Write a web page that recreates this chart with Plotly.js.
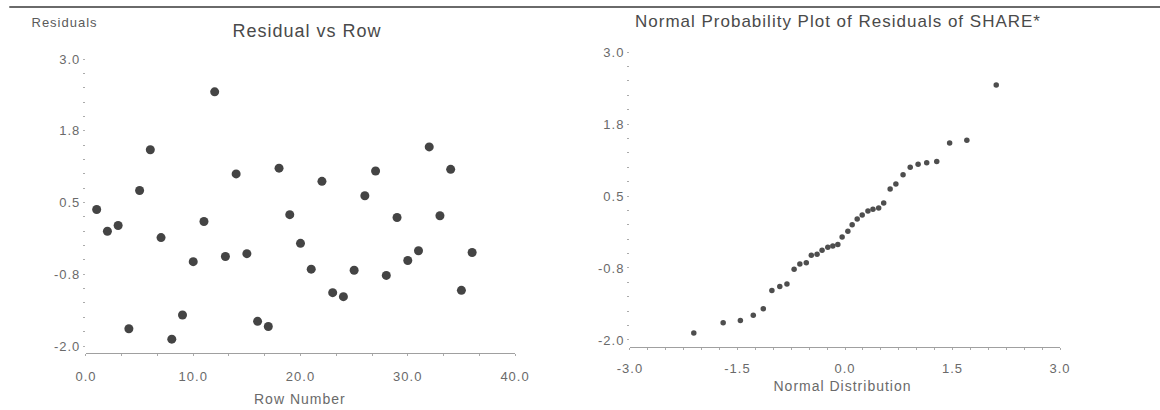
<!DOCTYPE html>
<html>
<head>
<meta charset="utf-8">
<script src="https://cdn.plot.ly/plotly-3.0.1.min.js"></script>
<style>
html,body{margin:0;padding:0;background:#fff;}
#chart{width:1160px;height:410px;}
#chart text{letter-spacing:1px;}
</style>
</head>
<body>
<div id="chart"></div>
<script>
// Residual vs Row data
var rowNumber = [1,2,3,4,5,6,7,8,9,10,11,12,13,14,15,16,17,18,19,20,21,22,23,24,25,26,27,28,29,30,31,32,33,34,35,36];
var residuals = [0.38,0.00,0.10,-1.70,0.71,1.42,-0.11,-1.88,-1.46,-0.53,0.17,2.43,-0.44,1.00,-0.39,-1.57,-1.66,1.10,0.29,-0.21,-0.66,0.87,-1.07,-1.14,-0.68,0.62,1.05,-0.77,0.24,-0.51,-0.34,1.47,0.27,1.08,-1.03,-0.37];

// Normal probability plot data
var normalDistribution = [-2.11,-1.70,-1.46,-1.28,-1.14,-1.02,-0.91,-0.81,-0.71,-0.63,-0.54,-0.47,-0.39,-0.32,-0.24,-0.17,-0.10,-0.04,0.04,0.10,0.17,0.24,0.32,0.39,0.47,0.54,0.63,0.71,0.81,0.91,1.02,1.14,1.28,1.46,1.70,2.11];
var sortedResiduals = [-1.88,-1.70,-1.66,-1.57,-1.46,-1.14,-1.07,-1.03,-0.77,-0.68,-0.66,-0.53,-0.51,-0.44,-0.39,-0.37,-0.34,-0.21,-0.11,0.00,0.10,0.17,0.24,0.27,0.29,0.38,0.62,0.71,0.87,1.00,1.05,1.08,1.10,1.42,1.47,2.43];

// Tick labels
var yTickVals = [-2.0,-0.75,0.5,1.75,3.0];
var yTickText = ["-2.0","-0.8","0.5","1.8","3.0"];
var xRowTickVals = [0,10,20,30,40];
var xRowTickText = ["0.0","10.0","20.0","30.0","40.0"];
var xNormTickVals = [-3.0,-1.5,0.0,1.5,3.0];
var xNormTickText = ["-3.0","-1.5","0.0","1.5","3.0"];

var traces = [
  {x: rowNumber, y: residuals, type: 'scatter', mode: 'markers', xaxis: 'x', yaxis: 'y',
   marker: {size: 9, color: '#444444'}, cliponaxis: false, hoverinfo: 'x+y'},
  {x: normalDistribution, y: sortedResiduals, type: 'scatter', mode: 'markers', xaxis: 'x2', yaxis: 'y2',
   marker: {size: 5.5, color: '#4e4e4e'}, cliponaxis: false, hoverinfo: 'x+y'}
];

var tickFont = {family: 'Liberation Sans, Arial, sans-serif', size: 13, color: '#6a6a6a'};

function yAxis(domain, range, anchor) {
  return {
    domain: domain, range: range, anchor: anchor,
    tickmode: 'array', tickvals: yTickVals, ticktext: yTickText,
    showgrid: false, zeroline: false, showline: false,
    ticks: 'outside', ticklen: 2, tickcolor: '#b0b0b0', tickfont: tickFont,
    minor: {tick0: -2, dtick: 0.25, ticks: 'outside', ticklen: 2, tickcolor: '#aaa'},
    fixedrange: true
  };
}
function xAxis(domain, range, anchor, vals, text, minorD, standoff) {
  return {
    domain: domain, range: range, anchor: anchor,
    tickmode: 'array', tickvals: vals, ticktext: text,
    showgrid: false, zeroline: false, showline: true, linecolor: '#a0a0a0', linewidth: 1,
    ticks: 'outside', ticklen: 2, tickcolor: '#aaa', tickfont: tickFont,
    ticklabelstandoff: standoff,
    minor: {tick0: range[0], dtick: minorD, ticks: 'outside', ticklen: 2, tickcolor: '#aaa'},
    fixedrange: true
  };
}

var layout = {
  width: 1160, height: 410,
  margin: {l: 0, r: 0, t: 0, b: 0},
  paper_bgcolor: '#ffffff', plot_bgcolor: '#ffffff',
  showlegend: false,
  font: {family: 'Liberation Sans, Arial, sans-serif', size: 13, color: '#5a5a5a'},
  xaxis: xAxis([0.0741, 0.4440], [0, 40], 'y', xRowTickVals, xRowTickText, 10/3, 9),
  yaxis: yAxis([0.139, 0.856], [-2.122, 3.002], 'x'),
  xaxis2: xAxis([0.5431, 0.9138], [-3, 3], 'y2', xNormTickVals, xNormTickText, 0.25, 7),
  yaxis2: yAxis([0.1537, 0.8732], [-2.122, 3.002], 'x2'),
  annotations: [
    {text: 'Residuals', xref: 'paper', yref: 'paper', x: 0.056, y: 0.9460, xanchor: 'center', yanchor: 'middle',
     showarrow: false, font: {size: 13, color: '#5a5a5a'}},
    {text: 'Residual vs Row', xref: 'paper', yref: 'paper', x: 0.2647, y: 0.9244, xanchor: 'center', yanchor: 'middle',
     showarrow: false, font: {size: 18, color: '#4a4a4a'}},
    {text: 'Normal Probability Plot of Residuals of SHARE*', xref: 'paper', yref: 'paper', x: 0.7224, y: 0.9465,
     xanchor: 'center', yanchor: 'middle', showarrow: false, font: {size: 17, color: '#4a4a4a'}},
    {text: 'Row Number', xref: 'paper', yref: 'paper', x: 0.2586, y: 0.0268, xanchor: 'center', yanchor: 'middle',
     showarrow: false, font: {size: 14, color: '#6a6a6a'}},
    {text: 'Normal Distribution', xref: 'paper', yref: 'paper', x: 0.7267, y: 0.0585, xanchor: 'center', yanchor: 'middle',
     showarrow: false, font: {size: 14, color: '#6a6a6a'}}
  ],
  shapes: [
    {type: 'line', xref: 'paper', yref: 'paper', x0: 0.008, x1: 1, y0: 0.983, y1: 0.983,
     line: {color: '#6a6a6a', width: 2}}
  ]
};

Plotly.newPlot('chart', traces, layout, {displayModeBar: false, staticPlot: true});
</script>
</body>
</html>
